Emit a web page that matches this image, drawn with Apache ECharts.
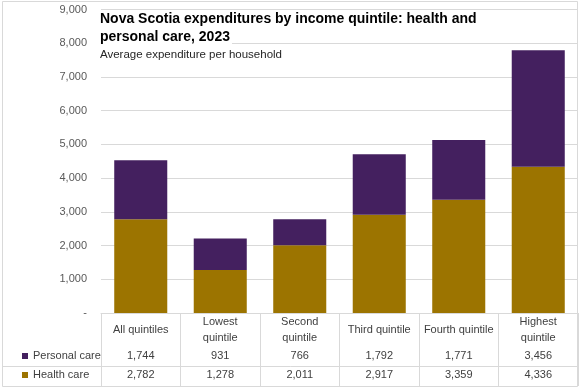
<!DOCTYPE html>
<html><head><meta charset="utf-8">
<script src="https://cdn.jsdelivr.net/npm/echarts@6/dist/echarts.min.js"></script>
<style>html,body{margin:0;padding:0;background:#fff}#c{width:582px;height:390px}</style>
</head><body><div id="c"></div>
<script>
const categories = ['All quintiles', 'Lowest\nquintile', 'Second\nquintile', 'Third quintile', 'Fourth quintile', 'Highest\nquintile'];
const personalCare = [1744, 931, 766, 1792, 1771, 3456];
const healthCare = [2782, 1278, 2011, 2917, 3359, 4336];
const seriesNames = ['Personal care', 'Health care'];
const yMin = 0, yMax = 9000, yInterval = 1000;
const titleLine1 = 'Nova Scotia expenditures by income quintile: health and';
const titleLine2 = 'personal care, 2023';
const subtitle = 'Average expenditure per household';

const FONT = 'Liberation Sans';
const fmt = v => v.toLocaleString('en-US');
const gridBox = {left: 101, right: 4, top: 9.5, bottom: 77};
const txt = {fontFamily: FONT, fontSize: 11, color: '#404040'};

const chart = echarts.init(document.getElementById('c'), null, {renderer: 'canvas'});
chart.setOption({
  animation: false,
  backgroundColor: '#fff',
  textStyle: {fontFamily: FONT},
  title: [
    {text: titleLine1, left: 96, top: 11, padding: [0, 2, 0, 4], backgroundColor: '#fff',
     textStyle: {fontFamily: FONT, fontSize: 14, fontWeight: 'bold', color: '#000', lineHeight: 16}},
    {text: titleLine2, left: 96, top: 29, padding: [0, 2, 0, 4], backgroundColor: '#fff',
     textStyle: {fontFamily: FONT, fontSize: 14, fontWeight: 'bold', color: '#000', lineHeight: 16}},
    {text: subtitle, left: 96, top: 48, padding: [0, 2, 0, 4], backgroundColor: '#fff',
     textStyle: {fontFamily: FONT, fontSize: 11.5, fontWeight: 'normal', color: '#262626', lineHeight: 14}}
  ],
  legend: {
    data: seriesNames, orient: 'vertical', left: 17, top: 344, itemGap: 5,
    itemWidth: 6, itemHeight: 6, icon: 'rect', selectedMode: false,
    textStyle: Object.assign({}, txt, {lineHeight: 14})
  },
  grid: [
    Object.assign({}, gridBox),
    Object.assign({}, gridBox),
    Object.assign({}, gridBox)
  ],
  xAxis: [
    {type: 'category', gridIndex: 0, data: categories,
     axisLine: {show: true, lineStyle: {color: '#d9d9d9'}},
     axisTick: {show: true, alignWithLabel: false, interval: 0, length: 73, lineStyle: {color: '#d9d9d9', width: 1}},
     axisLabel: Object.assign({}, txt, {margin: 17, verticalAlign: 'middle', lineHeight: 16, interval: 0})},
    {type: 'category', gridIndex: 1, data: personalCare.map(fmt),
     axisLine: {show: false}, axisTick: {show: false},
     axisLabel: Object.assign({}, txt, {margin: 43, verticalAlign: 'middle', interval: 0})},
    {type: 'category', gridIndex: 2, data: healthCare.map(fmt),
     axisLine: {show: false}, axisTick: {show: false},
     axisLabel: Object.assign({}, txt, {margin: 62, verticalAlign: 'middle', interval: 0})}
  ],
  yAxis: [
    {type: 'value', gridIndex: 0, min: yMin, max: yMax, interval: yInterval,
     axisLine: {show: false}, axisTick: {show: false},
     splitLine: {lineStyle: {color: '#d9d9d9'}},
     axisLabel: Object.assign({}, txt, {color: '#595959', margin: 14,
       formatter: v => v === 0 ? '-' : fmt(v)})},
    {type: 'value', gridIndex: 1, min: yMin, max: yMax, show: false, splitLine: {show: false}},
    {type: 'value', gridIndex: 2, min: yMin, max: yMax, show: false, splitLine: {show: false}}
  ],
  series: [
    {name: seriesNames[1], type: 'bar', stack: 'total', xAxisIndex: 0, yAxisIndex: 0,
     barWidth: '66.7%', data: healthCare, itemStyle: {color: '#9C7400'}},
    {name: seriesNames[0], type: 'bar', stack: 'total', xAxisIndex: 0, yAxisIndex: 0,
     barWidth: '66.7%', data: personalCare, itemStyle: {color: '#44205F'}}
  ],
  graphic: [
    {type: 'rect', silent: true, z: 100, shape: {x: 2.5, y: 1.5, width: 575, height: 385},
     style: {fill: null, stroke: '#d9d9d9', lineWidth: 1}},
    {type: 'line', silent: true, z: 100, shape: {x1: 2.5, y1: 366.5, x2: 578, y2: 366.5},
     style: {stroke: '#d9d9d9', lineWidth: 1}}
  ]
});
</script></body></html>
